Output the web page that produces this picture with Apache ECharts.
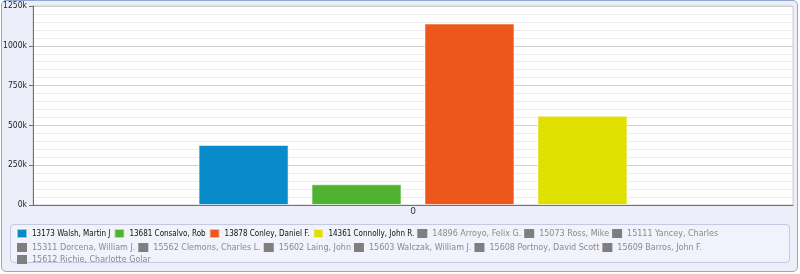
<!DOCTYPE html>
<html>
<head>
<meta charset="utf-8">
<script src="https://cdn.jsdelivr.net/npm/echarts@6/dist/echarts.min.js"></script>
<style>
html,body{margin:0;padding:0;background:#ffffff;}
#panel{position:absolute;left:1px;top:0px;width:795px;height:270px;border:1px solid #8fa9d2;border-radius:5px;background:#eceef9;}
#legbox{position:absolute;left:10px;top:224px;width:778px;height:37px;border:1px solid #c3c9de;border-radius:4px;background:#f1f2fb;}
#chart{position:absolute;left:0;top:0;width:800px;height:274px;}
</style>
</head>
<body>
<div id="panel"></div>
<div id="legbox"></div>
<div id="chart"></div>
<script>
const categories = ['0'];
const visibleNames = ['13173 Walsh, Martin J', '13681 Consalvo, Rob', '13878 Conley, Daniel F.', '14361 Connolly, John R.'];
const visibleValues = [377000, 130000, 1140000, 561000];
const visibleColors = ['#0a8bc9', '#4fb331', '#ee571c', '#dfe000'];
const hiddenNames = ['14896 Arroyo, Felix G.', '15073 Ross, Mike', '15111 Yancey, Charles',
  '15311 Dorcena, William J.', '15562 Clemons, Charles L.', '15602 Laing, John',
  '15603 Walczak, William J.', '15608 Portnoy, David Scott', '15609 Barros, John F.',
  '15612 Richie, Charlotte Golar'];
const yTicks = { min: 0, max: 1250000, interval: 250000 };

const chart = echarts.init(document.getElementById('chart'), null, { renderer: 'canvas' });

const series = [];
visibleNames.forEach((n, i) => {
  series.push({
    name: n, type: 'bar', data: [visibleValues[i]],
    barWidth: 90, barGap: '25.5%',
    itemStyle: { color: visibleColors[i], borderColor: 'rgba(255,255,255,0.55)', borderWidth: 1 }
  });
});
hiddenNames.forEach(n => {
  series.push({ name: n, type: 'bar', data: [], itemStyle: { color: '#7f7f7f' } });
});
const selected = {};
hiddenNames.forEach(n => selected[n] = false);

chart.setOption({
  backgroundColor: 'transparent',
  animation: false,
  grid: { left: 33, top: 6, right: 7, bottom: 69, show: true, backgroundColor: '#ffffff', borderColor: '#cccccc', borderWidth: 1, outerBoundsMode: 'none', containLabel: false },
  xAxis: {
    type: 'category', data: categories,
    axisLine: { lineStyle: { color: '#707070', width: 1 } },
    axisTick: { show: false },
    axisLabel: { fontSize: 9, color: '#333', margin: 2, fontFamily: 'DejaVu Sans' }
  },
  yAxis: {
    type: 'value', min: yTicks.min, max: yTicks.max, interval: yTicks.interval,
    axisLine: { show: true, lineStyle: { color: '#707070', width: 1 } },
    axisTick: { show: true, length: 4, lineStyle: { color: '#707070' } },
    axisLabel: { fontSize: 8.5, color: '#222', margin: 6, fontFamily: 'DejaVu Sans Condensed',
      formatter: v => (v / 1000) + 'k' },
    splitLine: { lineStyle: { color: '#cfcfcf' } },
    minorTick: { show: false, splitNumber: 5 },
    minorSplitLine: { show: true, lineStyle: { color: '#ececec' } }
  },
  legend: {
    left: 10, top: 224, width: 770,
    padding: [4, 6, 3, 6],
    itemWidth: 10, itemHeight: 9, itemGap: 3,
    icon: 'rect',
    inactiveColor: '#7f7f7f',
    selected: selected,
    data: visibleNames.concat(hiddenNames),
    formatter: n => hiddenNames.indexOf(n) >= 0 ? '{h|' + n + '}' : '{s|' + n + '}',
    textStyle: {
      fontSize: 9, color: '#111',
      rich: {
        s: { fontFamily: 'DejaVu Sans Condensed', fontSize: 8, color: '#111' },
        h: { fontFamily: 'DejaVu Sans', fontSize: 8, color: '#8a8a8a' }
      }
    }
  },
  series: series
});
</script>
</body>
</html>
